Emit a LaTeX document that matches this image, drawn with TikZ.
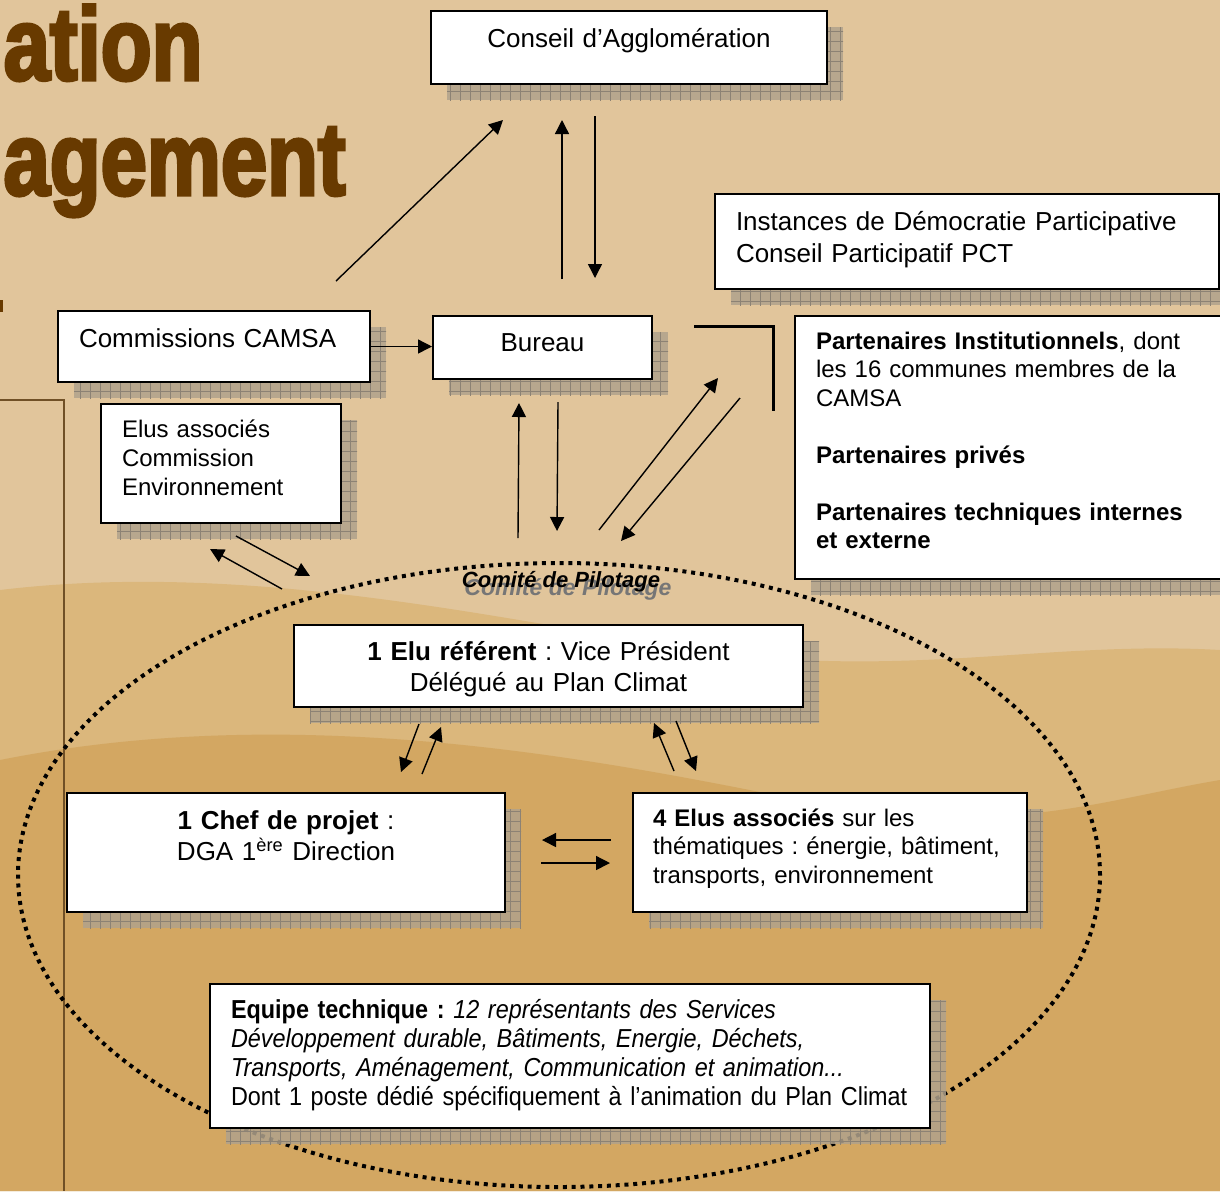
\documentclass[tikz,border=0pt]{standalone}
\usepackage{fontspec}
\setmainfont{Liberation Sans}
\newfontfamily\titrefont[FakeStretch=0.8, BoldFeatures={FakeBold=3}]{Liberation Sans}
\newfontfamily\etroitfont[FakeStretch=0.9]{Liberation Sans}
\frenchspacing
\usetikzlibrary{arrows.meta}
\usetikzlibrary{shapes.geometric}
\usetikzlibrary{patterns.meta}
\definecolor{fond}{RGB}{225,197,155}
\definecolor{sable}{RGB}{219,183,124}
\definecolor{sablefonce}{RGB}{211,167,98}
\definecolor{titrebrun}{RGB}{104,58,0}
\definecolor{cadre}{RGB}{112,80,38}
\definecolor{ombrefond}{RGB}{176,162,140}
\definecolor{ombretrait}{RGB}{140,130,116}
\tikzset{ombre/.style={preaction={fill=ombrefond, fill opacity=0.85, transform canvas={shift={(8pt,-8pt)}}},
    preaction={pattern={Hatch[angle=0, distance=5pt, line width=0.35pt]}, pattern color=ombretrait, transform canvas={shift={(8pt,-8pt)}}}}}
\tikzset{boite/.style={ombre, draw=black, line width=1pt, fill=white, inner ysep=0pt, anchor=north west}}
\tikzset{boitecentre/.style={boite, align=center, inner xsep=0pt}}
\tikzset{boitegauche/.style={boite, align=left, inner xsep=10.5pt}}
\tikzset{titre/.style={text=titrebrun, inner sep=0pt, anchor=base west, font=\titrefont\bfseries\fontsize{52}{56}\selectfont}}

\begin{document}
\begin{tikzpicture}[%
		x = 0.5pt, y = -0.5pt, % one unit = one pixel, y downwards
		> = {Triangle[length=7pt, width=7pt]}, % arrow head style
		line width = 0.7pt, % line style
		]
		
		\useasboundingbox (0,0) rectangle (1220,1191);
		\clip (0,0) rectangle (1220,1191);
		
		% Background
		\fill[fond] (0,0) rectangle (1220,1191);
		\fill[sable] (0,590) .. controls (250,560) and (500,620) .. (700,650) .. controls (900,680) and (1050,640) .. (1220,650) -- (1220,1191) -- (0,1191) -- cycle;
		\fill[sablefonce] (0,760) .. controls (300,700) and (600,760) .. (800,800) .. controls (1000,840) and (1100,800) .. (1220,780) -- (1220,1191) -- (0,1191) -- cycle;
		\draw[cadre, line width=0.8pt] (0,400) -- (64,400) -- (64,1191);
		\node[titre] (ation) at (3,80) {ation};
		\node[titre] (agement) at (-48,195) {nagement};
		\fill[titrebrun] (0,300) rectangle (3,312);
		
		% Comite de pilotage
		\node[ellipse, draw, line width=2pt, dash pattern=on 2pt off 2.4pt, inner sep=0pt,
		minimum width=541pt, minimum height=312pt] (comite) at (559,875) {};
		
		% Boxes
		\node[boitecentre, text width=198pt, text height=18pt, text depth=18.5pt, font=\fontsize{13}{16}\selectfont] (conseil) at (430,10) {Conseil d’Agglomération};
		\node[boitegauche, text width=231pt, text height=18pt, text depth=29.5pt, font=\fontsize{13}{16}\selectfont] (instances) at (714,193) {Instances de Démocratie Participative\\ Conseil Participatif PCT};
		\node[boitegauche, text width=135pt, text height=18pt, text depth=17.5pt, font=\fontsize{13}{16}\selectfont] (commissions) at (57,310) {Commissions CAMSA};
		\node[boitecentre, text width=109.5pt, text height=17.5pt, text depth=14pt, font=\fontsize{13}{16}\selectfont] (bureau) at (432,315) {Bureau};
		\node[boitegauche, text width=99pt, text height=16.5pt, text depth=43pt, font=\fontsize{12}{14.5}\selectfont] (elusassoc) at (100,403) {Elus associés\\ Commission\\ Environnement};
		\node[boitegauche, text width=194pt, text height=16.5pt, text depth=115pt, font=\fontsize{12}{14.25}\selectfont] (partenaires) at (794,315) {\textbf{Partenaires Institutionnels}, dont\\ les 16 communes membres de la\\ CAMSA\\[14.25pt] \textbf{Partenaires privés}\\[14.25pt] \textbf{Partenaires techniques internes}\\ \textbf{et externe}};
		\node[boitecentre, text width=254.5pt, text height=17.5pt, text depth=23.5pt, font=\fontsize{13}{15.5}\selectfont] (eluref) at (293,624) {\textbf{1 Elu référent} : Vice Président\\ Délégué au Plan Climat};
		\node[boitecentre, text width=219pt, text height=18pt, text depth=41.5pt, font=\fontsize{13}{15.5}\selectfont] (chef) at (66,792) {\textbf{1 Chef de projet} :\\ DGA 1\textsuperscript{ère} Direction};
		\node[boitegauche, inner xsep=10pt, text width=177pt, text height=16.5pt, text depth=43pt, font=\fontsize{12}{14.25}\selectfont] (quatre) at (632,792) {\textbf{4 Elus associés} sur les\\ thématiques : énergie, bâtiment,\\ transports, environnement};
		\node[boitegauche, text width=339pt, text height=17pt, text depth=55pt, font=\etroitfont\fontsize{13}{14.5}\selectfont] (equipe) at (209,983) {\textbf{Equipe technique :} \textit{12 représentants des Services}\\ \textit{Développement durable, Bâtiments, Energie, Déchets,}\\ \textit{Transports, Aménagement, Communication et animation...}\\ Dont 1 poste dédié spécifiquement à l’animation du Plan Climat};
		
		\node[anchor=base, inner sep=0pt, text={rgb,255:red,118;green,118;blue,118}, font=\fontsize{11.5}{13}\selectfont\bfseries\itshape] (comiteombre) at ([shift={(9,34)}]comite.north) {Comité de Pilotage};
		\node[anchor=base, inner sep=0pt, font=\fontsize{11}{13}\selectfont\bfseries\itshape] (comitetitre) at ([shift={(2,26)}]comite.north) {Comité de Pilotage};
		
		% Towards the Conseil
		\path[->] ([shift={(-35,-29)}]commissions.north east) edge ([shift={(73,35)}]conseil.south west);
		\path[->] ([shift={(19.5,-36)}]bureau.north) edge ([shift={(-67,35)}]conseil.south);
		\path[->] ([shift={(-34,31)}]conseil.south) edge ([shift={(52.5,-37)}]bureau.north);
		\path[->] (commissions.east) edge (commissions.east -| bureau.west);
		
		% Around the Comite
		\path[->] ([shift={(-41,-23)}]comite.north) edge ([shift={(-23.5,23)}]bureau.south);
		\path[->] ([shift={(15.5,22)}]bureau.south) edge ([shift={(-2,-30)}]comite.north);
		\path[->] ([shift={(40,-31)}]comite.north) edge ([shift={(-76,63)}]partenaires.north west);
		\path[->] ([shift={(-54,83)}]partenaires.north west) edge ([shift={(62,-20)}]comite.north);
		\path[->] ([shift={(-277,28)}]comite.north) edge ([shift={(-11,25)}]elusassoc.south);
		\path[->] ([shift={(15,12)}]elusassoc.south) edge ([shift={(-249,15)}]comite.north);
		\draw[line width=1.5pt] ([shift={(41,11)}]bureau.north east) -| ([shift={(-21,96)}]partenaires.north west);
		
		% Inside the Comite
		\path[->] ([shift={(126,16)}]eluref.south west) edge ([shift={(-105,-20)}]chef.north east);
		\path[->] ([shift={(-84,-18)}]chef.north east) edge ([shift={(148,19)}]eluref.south west);
		\path[->] ([shift={(42,-21)}]quatre.north west) edge ([shift={(105.5,15)}]eluref.south);
		\path[->] ([shift={(127.5,13)}]eluref.south) edge ([shift={(64,-21)}]quatre.north west);
		\path[->] ([shift={(-21,-12.5)}]quatre.west) edge ([shift={(36,-12.5)}]chef.east);
		\path[->] ([shift={(35,10.5)}]chef.east) edge ([shift={(-22,10.5)}]quatre.west);
		\end{tikzpicture}
\end{document}
